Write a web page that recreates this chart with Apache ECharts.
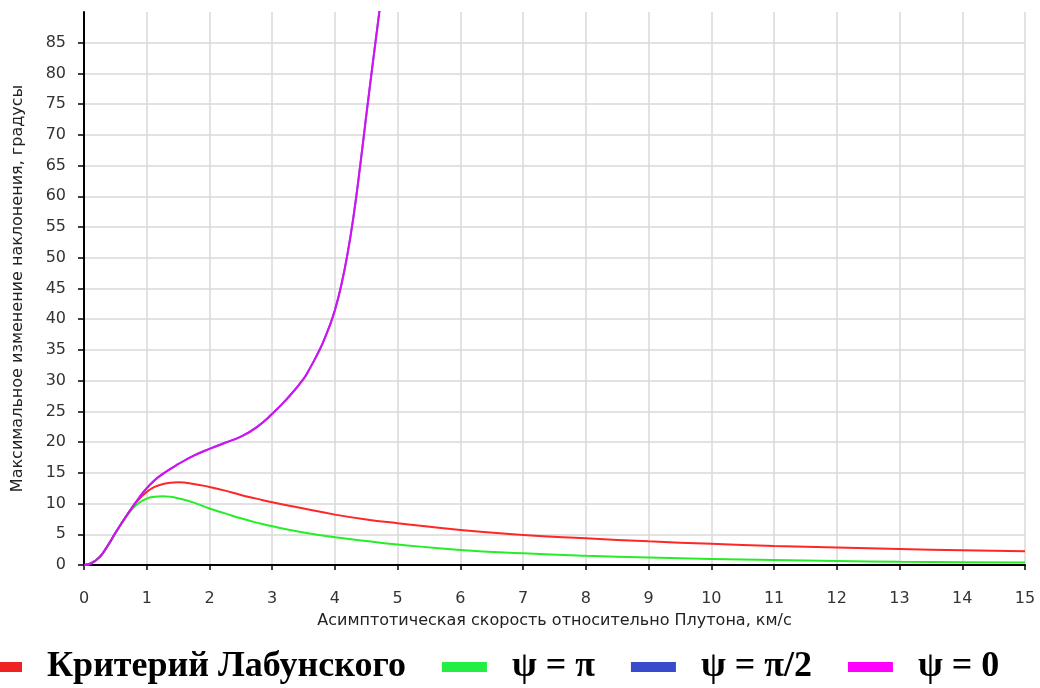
<!DOCTYPE html>
<html>
<head>
<meta charset="utf-8">
<script src="https://cdn.jsdelivr.net/npm/echarts@6/dist/echarts.min.js"></script>
<style>
html,body{margin:0;padding:0;background:#fff;}
#c{width:1040px;height:688px;}
</style>
</head>
<body>
<div id="c"></div>
<script>
// Data: [velocity km/s, max inclination change deg]
const labunsky = [[0,0],[0.1,0.2],[0.25,1.3],[0.375,3.1],[0.5,5.2],[0.625,7.2],[0.75,9.1],[0.875,10.7],[1,11.9],[1.125,12.7],[1.25,13.15],[1.375,13.4],[1.5,13.45],[1.75,13.2],[2,12.7],[2.25,12.1],[2.5,11.4],[2.75,10.8],[3,10.2],[3.5,9.2],[4,8.2],[4.5,7.4],[5,6.8],[6,5.7],[7,4.9],[8,4.35],[9,3.85],[10,3.45],[11,3.1],[12,2.85],[13,2.6],[14,2.4],[15,2.25]];
const psiPi = [[0,0],[0.1,0.2],[0.25,1.3],[0.375,3.1],[0.5,5.2],[0.625,7.2],[0.75,8.9],[0.875,10.1],[1,10.8],[1.125,11.1],[1.25,11.2],[1.375,11.1],[1.5,10.85],[1.75,10.15],[2,9.2],[2.25,8.4],[2.5,7.6],[2.75,6.9],[3,6.3],[3.5,5.3],[4,4.5],[4.5,3.9],[5,3.35],[6,2.45],[7,1.9],[8,1.5],[9,1.22],[10,0.98],[11,0.8],[12,0.65],[13,0.53],[14,0.45],[15,0.4]];
const psiHalfPi = [[0,0],[0.1,0.2],[0.25,1.3],[0.375,3.1],[0.5,5.2],[0.625,7.2],[0.75,9.1],[0.875,10.9],[1,12.5],[1.125,13.8],[1.25,14.8],[1.5,16.4],[1.75,17.8],[2,18.9],[2.25,19.9],[2.5,20.9],[2.75,22.4],[3,24.6],[3.25,27.2],[3.5,30.3],[3.6,32.0],[3.7,33.9],[3.8,36.0],[3.9,38.5],[4,41.5],[4.1,45.5],[4.2,50.6],[4.3,57.0],[4.4,64.8],[4.5,73.2],[4.6,81.4],[4.7,89.4],[4.8,97.5]];
const psiZero = [[0,0],[0.1,0.2],[0.25,1.3],[0.375,3.1],[0.5,5.2],[0.625,7.2],[0.75,9.1],[0.875,10.9],[1,12.5],[1.125,13.8],[1.25,14.8],[1.5,16.4],[1.75,17.8],[2,18.9],[2.25,19.9],[2.5,20.9],[2.75,22.4],[3,24.6],[3.25,27.2],[3.5,30.3],[3.6,32.0],[3.7,33.9],[3.8,36.0],[3.9,38.5],[4,41.5],[4.1,45.5],[4.2,50.6],[4.3,57.0],[4.4,64.8],[4.5,73.2],[4.6,81.4],[4.7,89.4],[4.8,97.5]];
const seriesNames = ['Критерий Лабунского','ψ = π','ψ = π/2','ψ = 0'];
const seriesColors = ['#ee2222','#22ee44','#3a4acc','#ff00ff'];
const xName = 'Асимптотическая скорость относительно Плутона, км/с';
const yName = 'Максимальное изменение наклонения, градусы';

const chart = echarts.init(document.getElementById('c'), null, {renderer:'canvas'});
const labelFont = {fontFamily:'DejaVu Sans', fontSize:16, color:'#333'};
const lineData = [labunsky, psiPi, psiHalfPi, psiZero];
const lineColors = ['#ff2626','#26ee26','#3a4acc','#ff00ff'];
const opacities = [1,1,1,0.8];
chart.setOption({
  animation:false,
  backgroundColor:'#fff',
  grid:{left:84, right:15, top:12, bottom:123, containLabel:false},
  legend:{
    left:-28, top:644,
    icon:'rect', itemWidth:45, itemHeight:10, itemGap:36,
    textStyle:{fontFamily:'Liberation Serif', fontWeight:'bold', fontSize:36, color:'#000', padding:[0,0,0,20]},
    data: seriesNames.map((n,i)=>({name:n, itemStyle:{color:seriesColors[i]}}))
  },
  xAxis:{
    type:'value', min:0, max:15, interval:1,
    name:xName, nameLocation:'middle', nameGap:48,
    nameTextStyle:{fontFamily:'DejaVu Sans', fontSize:16, color:'#222'},
    axisLine:{show:true, lineStyle:{color:'#000', width:2}},
    axisTick:{show:true, length:5, lineStyle:{color:'#000', width:1.5}},
    axisLabel:Object.assign({margin:26}, labelFont),
    splitLine:{show:true, lineStyle:{color:'#d8d8d8', width:1.5}}
  },
  yAxis:{
    type:'value', min:0, max:90, interval:5,
    name:yName, nameLocation:'middle', nameGap:58,
    nameTextStyle:{fontFamily:'DejaVu Sans', fontSize:16, color:'#222'},
    axisLine:{show:true, lineStyle:{color:'#000', width:2}},
    axisTick:{show:true, length:6, lineStyle:{color:'#000', width:1.5}},
    axisLabel:Object.assign({margin:18, showMaxLabel:false}, labelFont),
    splitLine:{show:true, showMaxLine:false, lineStyle:{color:'#d8d8d8', width:1.5}}
  },
  series: seriesNames.map((n,i)=>({
    name:n, type:'line', data:lineData[i], smooth:0.5, showSymbol:false, symbol:'none',
    clip:true, z:2+i,
    itemStyle:{color:seriesColors[i]},
    lineStyle:{color:lineColors[i], width:2, opacity:opacities[i]}
  }))
});
</script>
</body>
</html>
